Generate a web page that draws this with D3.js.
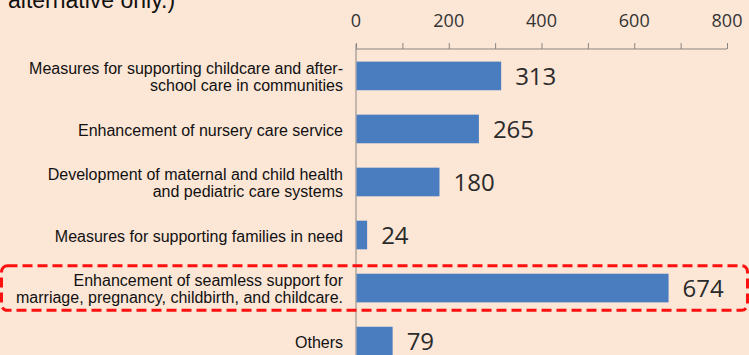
<!DOCTYPE html>
<html>
<head>
<meta charset="utf-8">
<script src="https://cdn.jsdelivr.net/npm/d3@7"></script>
<style>
  html, body { margin: 0; padding: 0; background: #fce6d6; }
  svg { display: block; }
</style>
</head>
<body>
<svg id="chart" width="749" height="355"></svg>
<script>
// Survey results: number of responses per measure
const categories = [
  "Measures for supporting childcare and after-\nschool care in communities",
  "Enhancement of nursery care service",
  "Development of maternal and child health\nand pediatric care systems",
  "Measures for supporting families in need",
  "Enhancement of seamless support for\nmarriage, pregnancy, childbirth, and childcare.",
  "Others"
];
const values = [313, 265, 180, 24, 674, 79];
const tickLabels = [0, 200, 400, 600, 800];
const minorTicks = [0, 100, 200, 300, 400, 500, 600, 700, 800];
const highlighted = "Enhancement of seamless support for\nmarriage, pregnancy, childbirth, and childcare.";

const svg = d3.select("#chart");
const W = 749, H = 355;

svg.append("rect").attr("width", W).attr("height", H).attr("fill", "#fce6d6");

// Heading fragment carried over from the line above
svg.append("text")
  .attr("x", 8).attr("y", 8)
  .attr("font-family", "Liberation Sans, Arial, sans-serif")
  .attr("font-size", 23)
  .attr("fill", "#111")
  .text("alternative only.)");

const axisY = 49;
const x = d3.scaleLinear().domain([0, 800]).range([356, 727]);
const y = d3.scaleBand().domain(categories).range([51, 366]).paddingInner(0.46).paddingOuter(0.2);

// Top axis with ticks every 100
const axis = d3.axisTop(x).tickValues(minorTicks).tickSize(6).tickFormat("");
const gAxis = svg.append("g").attr("transform", `translate(0,${axisY})`).call(axis);
gAxis.select(".domain").attr("stroke", "#8a8580").attr("d", `M${x(0)},0H${x(800)}`);
gAxis.selectAll(".tick line").attr("stroke", "#8a8580");

// Axis labels every 200
svg.append("g").selectAll("text").data(tickLabels).join("text")
  .attr("x", d => x(d))
  .attr("y", 27)
  .attr("text-anchor", "middle")
  .attr("font-family", "Open Sans, sans-serif")
  .attr("font-size", 18)
  .attr("fill", "#333")
  .text(d => d);

// Vertical baseline
svg.append("line")
  .attr("x1", x(0)).attr("x2", x(0))
  .attr("y1", axisY - 5).attr("y2", H)
  .attr("stroke", "#8a8580");

// Bars
svg.append("g").selectAll("rect").data(categories).join("rect")
  .attr("x", x(0) + 0.5)
  .attr("y", d => y(d))
  .attr("width", (d, i) => x(values[i]) - x(0) - 0.5)
  .attr("height", y.bandwidth())
  .attr("fill", "#4a7dc0");

// Value labels
svg.append("g").selectAll("text").data(categories).join("text")
  .attr("x", (d, i) => x(values[i]) + 14)
  .attr("y", d => y(d) + y.bandwidth() / 2)
  .attr("dy", "0.36em")
  .attr("font-family", "Open Sans, sans-serif")
  .attr("font-size", 24)
  .attr("fill", "#2a2a2a")
  .text((d, i) => values[i]);

// Category labels (right-aligned, possibly two lines)
const lineH = 17.5;
const catG = svg.append("g");
categories.forEach(c => {
  const lines = c.split("\n");
  const cy = y(c) + y.bandwidth() / 2 + 1;
  const t = catG.append("text")
    .attr("text-anchor", "end")
    .attr("font-family", "Liberation Sans, Arial, sans-serif")
    .attr("font-size", 16)
    .attr("fill", "#111");
  lines.forEach((ln, k) => {
    t.append("tspan")
      .attr("x", 343)
      .attr("y", cy + (k - (lines.length - 1) / 2) * lineH)
      .attr("dy", "0.35em")
      .text(ln);
  });
});

// Dashed highlight frame around the emphasised item
const hy = y(highlighted);
svg.append("rect")
  .attr("x", 1.5)
  .attr("y", hy - 8)
  .attr("width", W - 3)
  .attr("height", y.bandwidth() + 16)
  .attr("rx", 6)
  .attr("fill", "none")
  .attr("stroke", "#ff1010")
  .attr("stroke-width", 3)
  .attr("stroke-dasharray", "10,5");
</script>
</body>
</html>
